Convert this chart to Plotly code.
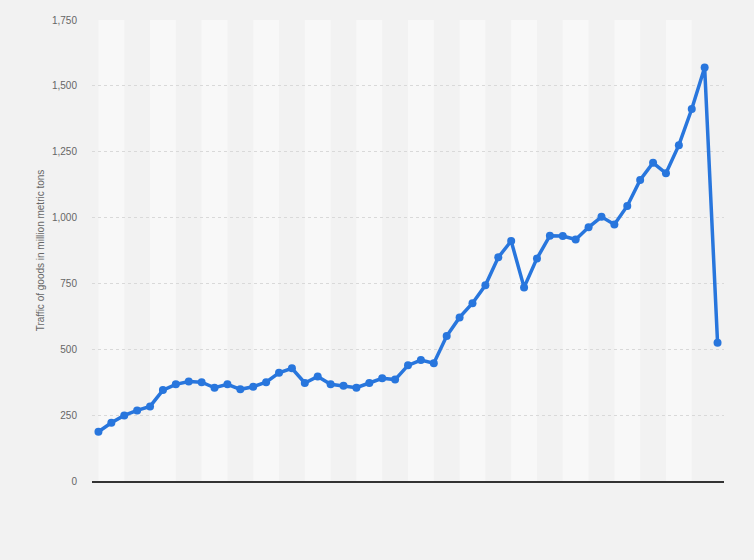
import plotly.graph_objects as go

# yearly traffic of goods, million metric tons
years = list(range(49))
traffic = [187, 221, 249, 268, 283, 345, 367, 378, 375, 354,
           367, 348, 358, 375, 411, 428, 372, 397, 367, 362,
           354, 372, 390, 385, 439, 459, 447, 550, 621, 675,
           743, 849, 911, 735, 845, 931, 930, 917, 963, 1003,
           974, 1044, 1143, 1208, 1168, 1275, 1412, 1570, 525]
y_ticks = [0, 250, 500, 750, 1000, 1250, 1500, 1750]
stripe_starts = list(range(0, 45, 4))

fig = go.Figure()
fig.add_trace(go.Scatter(x=years, y=traffic, mode='lines+markers',
                         line=dict(color='#2876dd', width=3.5),
                         marker=dict(color='#2876dd', size=8),
                         hoverinfo='y'))

# alternating lighter column bands
for s in stripe_starts:
    fig.add_shape(type='rect', xref='x', yref='paper', x0=s, x1=s + 2, y0=0, y1=1,
                  fillcolor='#f8f8f8', line_width=0, layer='below')

fig.update_layout(
    width=754, height=560,
    paper_bgcolor='#f2f2f2', plot_bgcolor='#f2f2f2',
    margin=dict(l=92, r=30, t=20, b=79),
    showlegend=False,
    font=dict(family='Liberation Sans, Arial, sans-serif', size=10, color='#666666'),
)
fig.update_xaxes(range=[-0.5, 48.5], showgrid=False, showticklabels=False, ticks='',
                 zeroline=False, showline=True, linecolor='#333333', linewidth=1.5)
fig.update_yaxes(range=[0, 1750], tickvals=y_ticks, tickformat=',', ticks='',
                 showgrid=True, gridcolor='#d9d9d9', griddash='dot', gridwidth=1,
                 zeroline=False, showline=False, ticklabelstandoff=14,
                 title=dict(text='Traffic of goods in million metric tons', standoff=5,
                            font=dict(size=10, color='#666666')))

# drop the default body margin so the figure sits at the page corner
fig.write_html("out.html", config={'displayModeBar': False},
               post_script="document.body.style.margin='0';")
